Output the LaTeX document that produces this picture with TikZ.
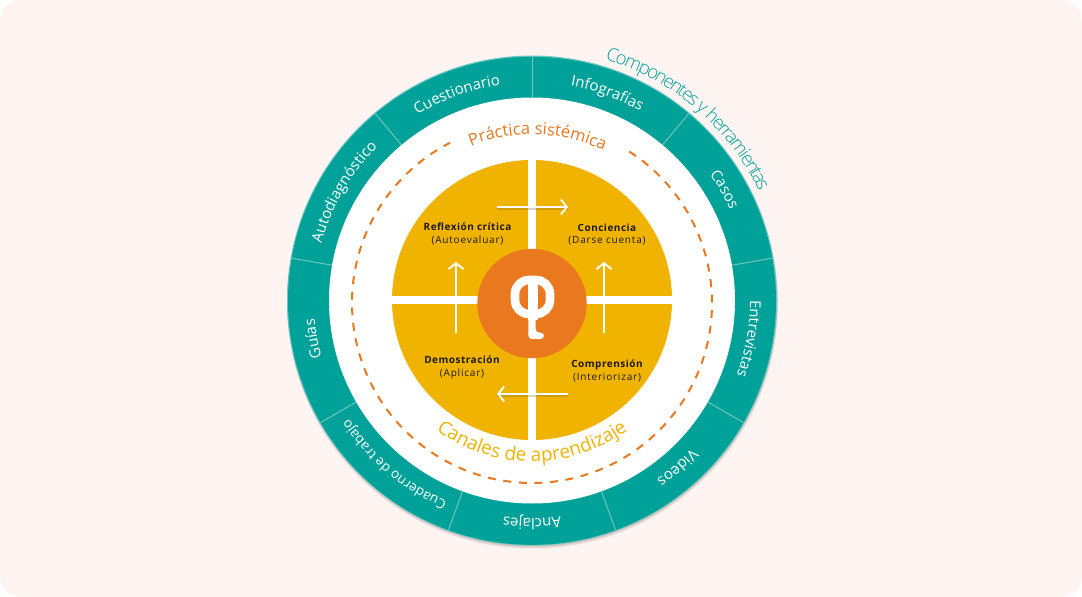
\documentclass[tikz,border=0pt]{standalone}
\usepackage{fontspec}
\setmainfont{Open Sans}
\newfontfamily\ringfont[LetterSpace=7]{Open Sans}
\newfontfamily\compfont{Open Sans Light}
\newfontfamily\labfont[LetterSpace=5]{Open Sans}
\newfontfamily\subfont[LetterSpace=8]{Open Sans}
\usetikzlibrary{decorations.text,arrows.meta,calc}
\definecolor{bgpink}{HTML}{FEF4F2}
\definecolor{ringteal}{HTML}{00A199}
\definecolor{ringline}{HTML}{6CC7C1}
\definecolor{sunyellow}{HTML}{F0B400}
\definecolor{coreorange}{HTML}{E9781E}
\definecolor{inktext}{HTML}{1E1A0E}
\tikzset{
  sepline/.style={ringline,line width=1pt},
  flowarrow/.style={white,line width=1.8pt,-{Straight Barb[length=6pt,width=15pt,line width=1.8pt]}},
  flowshadow/.style={black!55!sunyellow,opacity=.25,line width=1.8pt},
  quadlabel/.style={inktext,align=center,font=\fontsize{10}{12.6}\selectfont,inner sep=0pt},
  titlechar/.style={ringteal,inner sep=0pt,anchor=base,font=\compfont\fontsize{18.5}{22}\selectfont},
}
\newcommand{\ringlabel}[3]{% mid angle, half span, text
  \path[decorate,decoration={text along path,text align=center,
    text={|\fontsize{15}{17}\selectfont\ringfont\color{white}|#3}}]
    ($(c)+(#1+#2:218)$) arc (#1+#2:#1-#2:218);
}
\begin{document}
\begin{tikzpicture}[x=1pt,y=1pt]
\useasboundingbox (0,0) rectangle (1082,-597);
\fill[bgpink,rounded corners=21pt] (0,0) rectangle (1082,-597);
\coordinate (c) at (532,-300.5);
\coordinate (d) at (532,-303);
\coordinate (o) at (532,-303.5);
% ring
\fill[black,opacity=.10] ($(c)+(0.5,-2.5)$) circle (245.5);
\fill[black,opacity=.12] ($(c)+(0.3,-1.2)$) circle (245);
\fill[ringline] (c) circle (245);
\fill[ringteal] ($(c)+(0,-0.3)$) circle (244);
\fill[white] (c) circle (203);
\foreach \a in {90,50,10,-30,-70,-110,-150,170,130}{
  \coordinate (si) at ($(c)+(\a:203)$);
  \coordinate (so) at ($(c)+(\a:244)$);
  \draw[sepline] (si) -- (so);
}
\ringlabel{110}{19}{Cuestionario}
\ringlabel{70}{19}{Infografías}
\ringlabel{30}{19}{Casos}
\ringlabel{-10}{19}{Entrevistas}
\ringlabel{-49}{19}{Videos}
\ringlabel{-90}{19}{Anclajes}
\path[decorate,decoration={text along path,text align=center,
    text={|\fontsize{13.5}{16}\selectfont\color{white}|Cuaderno de trabajo}}]
    ($(c)+(-111:218)$) arc (-111:-149:218);
\ringlabel{190}{19}{Guías}
\ringlabel{150}{19}{Autodiagnóstico}
% outer title, set letter by letter with tight tracking (advance in em)
\xdef\curang{72.9}
\foreach \ch/\adv [count=\i] in {C/.63,o/.60,m/.94,p/.61,o/.60,n/.61,e/.56,n/.61,t/.35,e/.56,s/.47,{}/.36,y/.50,{}/.36,h/.61,e/.56,r/.40,r/.40,a/.55,m/.94,i/.25,e/.56,n/.61,t/.35,a/.55,s/.47}{
  \pgfmathsetmacro\halfang{(\adv*18.5-2)/2/252*57.2958}
  \pgfmathsetmacro\midang{\curang-\halfang}
  \pgfmathsetmacro\nextang{\curang-2*\halfang}
  \node[titlechar,rotate=\midang-90] (ct\i) at ($(c)+(\midang:252)$) {\ch};
  \xdef\curang{\nextang}
}
% dashed circle
\draw[coreorange,line width=2pt,dash pattern=on 8pt off 7.6pt]
  ($(d)+(57.3:180)$) arc (57.3:-242.9:180);
% arc titles
\path[decorate,decoration={text along path,text align=center,
  text={|\fontsize{16.5}{22}\selectfont\color{coreorange}|Práctica sistémica}}]
  ($(c)+(118:166)$) arc (118:58:166);
\path[decorate,decoration={text along path,text align=center,
  text={|\fontsize{19}{24}\selectfont\color{sunyellow}|Canales de aprendizaje}}]
  ($(c)+(-130:161)$) arc (-130:-50:161);
% yellow disc
\coordinate (y) at (532,-300);
\fill[sunyellow] (y) circle (140);
\fill[white] (388,-296) rectangle (676,-304);
\fill[white] (528,-156) rectangle (536,-444);
% arrow endpoints
\coordinate (ta) at (497,-207);  \coordinate (tb) at (568,-207);
\coordinate (ra) at (604,-333);  \coordinate (rb) at (604,-262);
\coordinate (ba) at (568,-394);  \coordinate (bb) at (497,-394);
\coordinate (la) at (456,-333);  \coordinate (lb) at (456,-262);
\draw[flowshadow] ([yshift=-1.6pt]ta) -- ([yshift=-1.6pt]tb);
\draw[flowshadow] ([yshift=-1.6pt]ba) -- ([yshift=-1.6pt]bb);
\draw[flowarrow] (ta) -- (tb);
\draw[flowarrow] (ra) -- (rb);
\draw[flowarrow] (ba) -- (bb);
\draw[flowarrow] (la) -- (lb);
% labels
\node[quadlabel] (q1) at (467.5,-234) {{\labfont\bfseries Reflexión crítica}\\{\subfont (Autoevaluar)}};
\node[quadlabel] (q2) at (607,-234.5) {{\labfont\bfseries Conciencia}\\{\subfont (Darse cuenta)}};
\node[quadlabel] (q3) at (462,-367.5) {{\labfont\bfseries Demostración}\\{\subfont (Aplicar)}};
\node[quadlabel] (q4) at (607,-371) {{\labfont\bfseries Comprensión}\\{\subfont (Interiorizar)}};
% centre
\fill[coreorange] (o) circle (54.7);
\draw[white,line width=8.6pt,rounded corners=14pt] (515,-280) rectangle (550,-314);
\fill[white] (528.3,-277) rectangle (538,-320);
\fill[white,rounded corners=3.5pt] (528.3,-315) -- (528.3,-339) -- (544,-339) -- (544,-332.5) -- (535.6,-332.5) -- (535.6,-315) -- cycle;
\end{tikzpicture}
\end{document}
